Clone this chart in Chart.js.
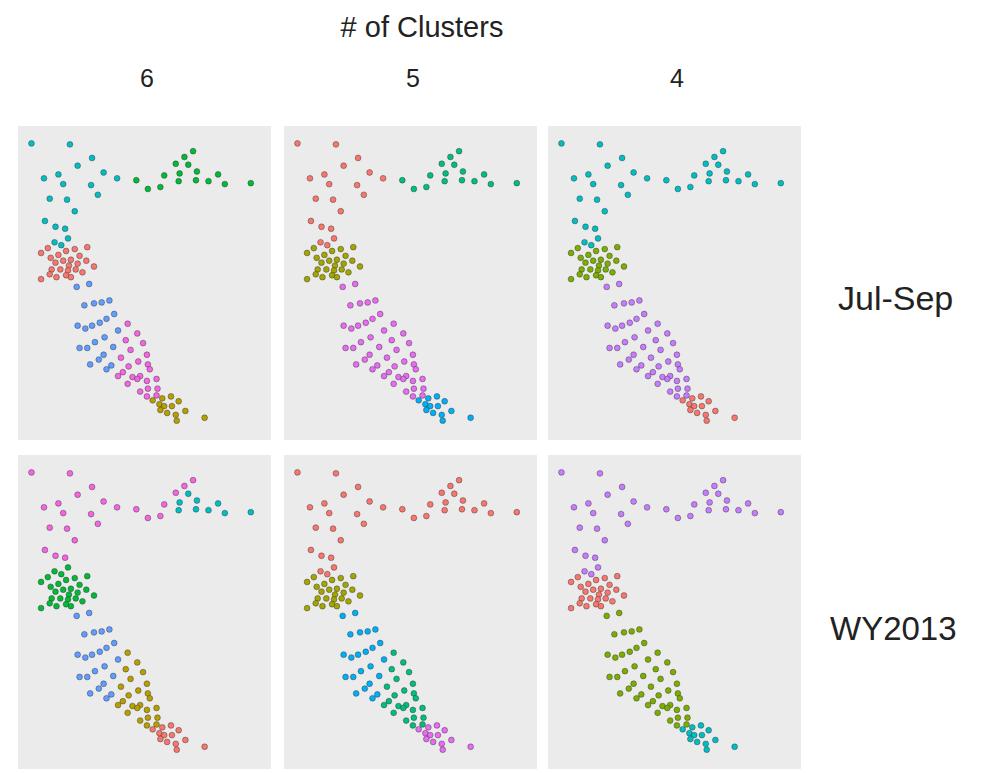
<!DOCTYPE html>
<html>
<head>
<meta charset="utf-8">
<script src="https://cdn.jsdelivr.net/npm/chart.js@4"></script>
<style>
  body { margin: 0; background: #fff; font-family: "Liberation Sans", Arial, sans-serif; }
  #wrap { position: relative; width: 982px; height: 773px; }
  .panel { position: absolute; background: #ebebeb; }
  .lbl { position: absolute; color: #222; white-space: nowrap; transform: translateX(-50%); }
</style>
</head>
<body>
<div id="wrap">
  <div class="lbl" style="left:422px; top:11px; font-size:29px;"># of Clusters</div>
  <div class="lbl" style="left:147px; top:64px; font-size:25px;">6</div>
  <div class="lbl" style="left:413px; top:64px; font-size:25px;">5</div>
  <div class="lbl" style="left:677px; top:64px; font-size:25px;">4</div>
  <div class="lbl" style="left:838px; top:279px; font-size:34px; transform:none;">Jul-Sep</div>
  <div class="lbl" style="left:830px; top:610px; font-size:33px; transform:none;">WY2013</div>
</div>
<script>
// point locations (same grid in every panel), grouped by region
const north = [[9,13],[49,14],[72,28],[57,36],[84,43],[37,45],[22,49],[42,55],[71,56],[78,66],[98,49],
  [28,70],[46,71],[54,83],[23,93],[34,99],[44,101]];
const blobTop = [[47,111],[33,115],[40,118]];
const neMid = [[118,51],[130,60],[143,58],[147,46]];
const nePeak = [[177,21],[168,27],[159,34]];
const neEast = [[172,35],[163,44],[181,42],[162,52],[180,51],[193,52],[203,45],[210,55],[237,54]];
const blob = [[19,126],[29,131],[37,128],[45,124],[54,122],[67,120],[26,121],[34,136],[42,134],[50,133],
  [59,129],[48,139],[57,137],[66,134],[30,143],[39,143],[47,144],[55,143],[62,146],[74,140],[28,148],
  [19,153],[35,151],[45,149],[50,151]];
const stripUpper = [[56,161],[69,158],[64,180],[74,178],[82,177],[90,175],[57,201],[65,204],[72,201],
  [80,198],[87,194],[95,189],[59,224],[67,224],[75,218],[85,213],[99,206],[70,241],[79,236],[84,231],
  [94,223],[87,246],[92,242]];
const stripLower = [[109,199],[119,209],[107,216],[125,219],[112,226],[120,238],[129,231],[102,234],
  [110,243],[130,241],[99,253],[104,249],[114,254],[122,253],[132,246],[109,261],[119,256],[129,258],
  [139,256],[122,269],[130,266],[140,266],[129,274],[139,273]];
const south = [[135,278],[145,276],[154,274],[142,282],[147,284],[155,284],[162,279],[143,288],[150,291],
  [159,293],[169,289],[160,299],[189,296]];

const groups = [north, blobTop, neMid, nePeak, neEast, blob, stripUpper, stripLower, south];

// ggplot default hues for 6, 5 and 4 clusters
const pal6 = ["#F8766D", "#B79F00", "#00BA38", "#00BFC4", "#619CFF", "#F564E3"];
const pal5 = ["#F8766D", "#A3A500", "#00BF7D", "#00B0F6", "#E76BF3"];
const pal4 = ["#F8766D", "#7CAE00", "#00BFC4", "#C77CFF"];

// cluster number of each group, per panel (order of groups above)
const julSep6 = [4, 4, 3, 3, 3, 1, 5, 6, 2];
const julSep5 = [1, 1, 3, 3, 3, 2, 5, 5, 4];
const julSep4 = [3, 3, 3, 3, 3, 2, 4, 4, 1];
const wy6 = [6, 3, 6, 6, 4, 3, 5, 2, 1];
const wy5 = [1, 1, 1, 1, 1, 2, 4, 3, 5];
const wy4 = [4, 4, 4, 4, 4, 1, 2, 2, 3];

const panels = [
  { left: 18, top: 126, pal: pal6, cl: julSep6 },
  { left: 284, top: 126, pal: pal5, cl: julSep5 },
  { left: 548, top: 126, pal: pal4, cl: julSep4 },
  { left: 18, top: 455, pal: pal6, cl: wy6 },
  { left: 284, top: 455, pal: pal5, cl: wy5 },
  { left: 548, top: 455, pal: pal4, cl: wy4 }
];
const PW = 253, PH = 314;

const wrap = document.getElementById("wrap");

panels.forEach(p => {
  const div = document.createElement("div");
  div.className = "panel";
  div.style.left = p.left + "px";
  div.style.top = p.top + "px";
  div.style.width = PW + "px";
  div.style.height = PH + "px";
  const cv = document.createElement("canvas");
  cv.width = PW;
  cv.height = PH;
  div.appendChild(cv);
  wrap.appendChild(div);

  // one dataset per cluster
  const datasets = p.pal.map((col, i) => {
    const pts = [];
    groups.forEach((g, gi) => {
      if (p.cl[gi] === i + 1) g.forEach(([x, y]) => pts.push({ x, y }));
    });
    return {
      data: pts,
      backgroundColor: col,
      borderColor: "rgba(50,50,50,0.55)",
      borderWidth: 0.8,
      pointRadius: 2.9
    };
  });

  new Chart(cv, {
    type: "scatter",
    data: { datasets },
    options: {
      responsive: false,
      animation: false,
      layout: { padding: 0 },
      scales: {
        x: { display: false, min: 0, max: PW },
        y: { display: false, min: 0, max: PH, reverse: true }
      },
      plugins: {
        legend: { display: false },
        tooltip: { enabled: false }
      }
    }
  });
});
</script>
</body>
</html>
